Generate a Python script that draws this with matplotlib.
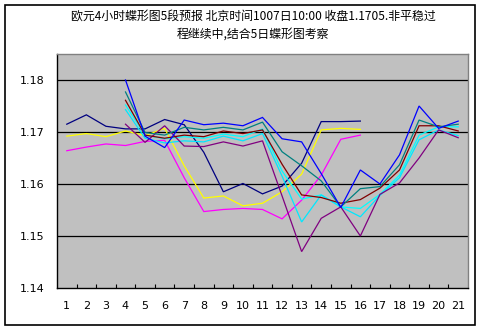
import numpy as np
import matplotlib
matplotlib.use("Agg")
import matplotlib.pyplot as plt
from matplotlib.patches import Rectangle

plt.rcParams['font.family'] = ['Noto Sans CJK SC', 'DejaVu Sans']

title = "欧元4小时蝶形图5段预报 北京时间1007日10:00 收盘1.1705.非平稳过\n程继续中,结合5日蝶形图考察"
categories = [str(i) for i in range(1, 22)]
n = None

navy = [1.1715, 1.1733, 1.1711, 1.1706, 1.1706, 1.1724, 1.1714, 1.1661, 1.1585, 1.1601,
        1.1581, 1.1596, 1.1640, 1.1720, 1.1720, 1.1721, n, n, n, n, n]
magenta = [1.1664, 1.1671, 1.1677, 1.1674, 1.1682, 1.1684, 1.1612, 1.1547, 1.1551, 1.1553,
           1.1551, 1.1533, 1.1569, 1.1617, 1.1686, 1.1694, n, n, n, n, n]
yellow = [1.1692, 1.1697, 1.1691, 1.1702, 1.1693, 1.1707, 1.1635, 1.1573, 1.1577, 1.1558,
          1.1563, 1.1585, 1.1619, 1.1704, 1.1707, 1.1705, n, n, n, n, n]
cyan1 = [n, n, n, 1.1752, 1.1694, 1.1687, 1.1691, 1.1688, 1.1696, 1.1691,
         1.1706, 1.1625, 1.1571, 1.1579, 1.1556, 1.1553, 1.1580, 1.1617, 1.1694, 1.1710, 1.1710]
cyan2 = [n, n, n, 1.1743, 1.1688, 1.1679, 1.1683, 1.1681, 1.1692, 1.1683,
         1.1697, 1.1615, 1.1527, 1.1579, 1.1556, 1.1537, 1.1578, 1.1612, 1.1685, 1.1704, 1.1693]
purple = [n, n, n, 1.1715, 1.1680, 1.1712, 1.1673, 1.1672, 1.1681, 1.1673,
          1.1683, 1.1577, 1.1470, 1.1534, 1.1556, 1.1500, 1.1580, 1.1602, 1.1650, 1.1704, 1.1689]
darkred = [n, n, n, 1.1761, 1.1694, 1.1688, 1.1694, 1.1691, 1.1702, 1.1697,
           1.1704, 1.1638, 1.1579, 1.1574, 1.1563, 1.1570, 1.1592, 1.1627, 1.1712, 1.1712, 1.1702]
teal = [n, n, n, 1.1777, 1.1699, 1.1694, 1.1709, 1.1704, 1.1709, 1.1704,
        1.1719, 1.1662, 1.1635, 1.1606, 1.1556, 1.1591, 1.1595, 1.1637, 1.1723, 1.1710, 1.1715]
blue = [n, n, n, 1.1800, 1.1692, 1.1670, 1.1723, 1.1714, 1.1717, 1.1712,
        1.1728, 1.1687, 1.1681, 1.1620, 1.1555, 1.1627, 1.1600, 1.1656, 1.1750, 1.1707, 1.1721]

series = [(navy, '#000080'), (magenta, '#FF00FF'), (yellow, '#FFFF00'),
          (cyan1, '#00FFFF'), (cyan2, '#00E8FF'), (purple, '#800080'),
          (darkred, '#800000'), (teal, '#008080'), (blue, '#0000FF')]

W, H = 483, 331
fig = plt.figure(figsize=(W / 100, H / 100), dpi=100)
fig.patch.set_facecolor('white')

# outer border
fig.patches.append(Rectangle((5 / W, 6 / H), 470 / W, 320 / H, transform=fig.transFigure,
                             fill=False, edgecolor='black', linewidth=1.2))

ax = fig.add_axes([57 / W, 43 / H, 411 / W, 234 / H])
ax.set_facecolor('#C0C0C0')

x = np.arange(1, 22)
for vals, col in series:
    y = np.array([np.nan if v is None else v for v in vals], dtype=float)
    ax.plot(x, y, color=col, lw=0.9, solid_joinstyle='miter')

ax.set_xlim(0.5, 21.5)
ax.set_ylim(1.14, 1.185)
yt = [1.14, 1.15, 1.16, 1.17, 1.18]
ax.set_yticks(yt)
ax.set_yticklabels([f"{v:.2f}" for v in yt], fontsize=8, family=['DejaVu Sans'])
for v in yt[1:]:
    ax.axhline(v, color='black', lw=0.9, zorder=0.5)
ax.tick_params(axis='y', length=0, pad=9)

ax.set_xticks(x)
ax.set_xticklabels(categories, fontsize=8, family=['DejaVu Sans'])
ax.tick_params(axis='x', which='major', length=0, pad=9.5)
ax.set_xticks(np.arange(1.5, 21.5, 1.0), minor=True)
ax.tick_params(axis='x', which='minor', direction='in', length=3, width=0.8, color='black')

for s in ['left', 'bottom']:
    ax.spines[s].set_color('black')
    ax.spines[s].set_linewidth(1.0)
for s in ['top', 'right']:
    ax.spines[s].set_color('#808080')
    ax.spines[s].set_linewidth(1.0)

fig.text(253 / W, 1 - 25 / H, title, ha='center', va='center', fontsize=8.6,
         linespacing=1.45)

fig.savefig('out.png', dpi=100)
